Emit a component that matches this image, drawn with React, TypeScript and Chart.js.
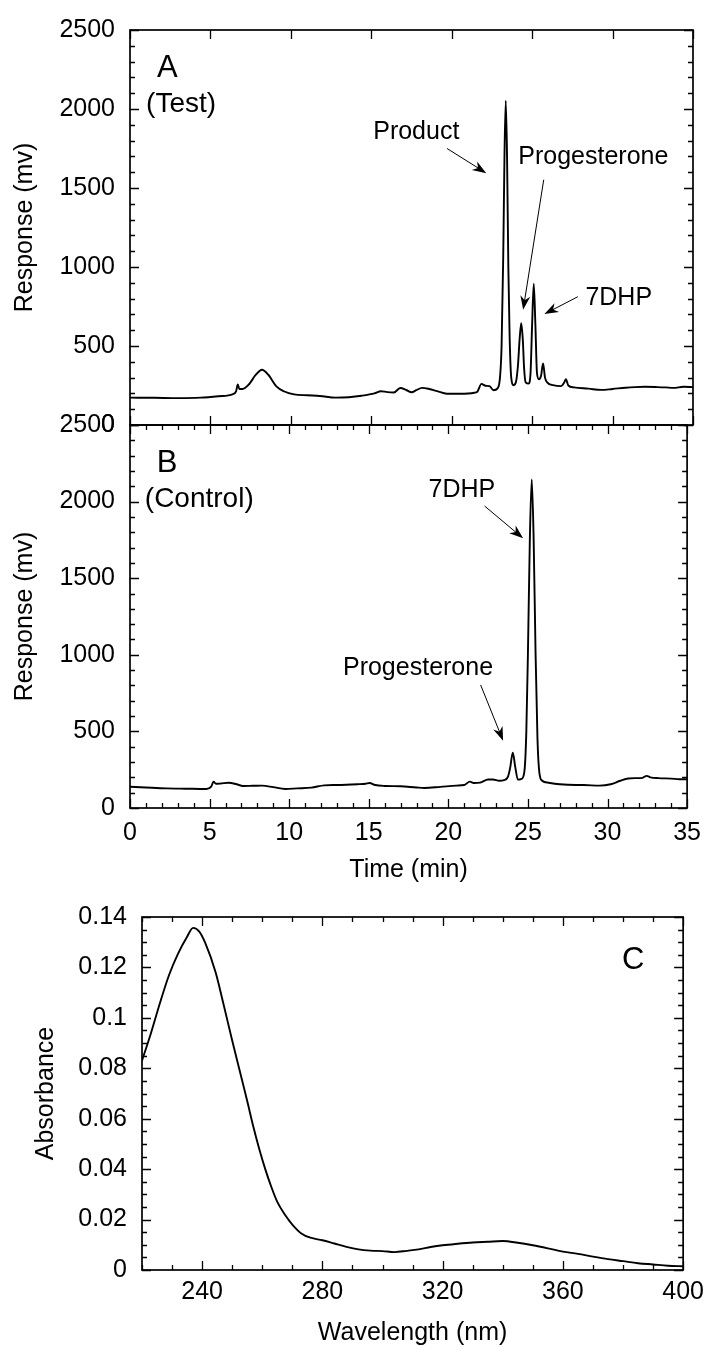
import React, { useEffect, useRef } from 'react';
import { Chart, registerables } from 'chart.js';

Chart.register(...registerables);

const FONT = '"Liberation Sans", Arial, Helvetica, sans-serif';

// ---------- Panel A (Test) : time (min) vs response (mv) ----------
const A_TIME = [
  0, 1.5, 3.0, 4.4, 5.5, 6.4, 6.6, 6.7, 6.8, 7.0, 7.4, 7.8, 8.2, 8.6, 9.1, 9.6, 10.2, 11.0, 11.8, 12.8,
  13.6, 14.4, 15.2, 15.6, 16.0, 16.4, 16.8, 17.2, 17.5, 17.8, 18.15, 18.6, 19.1, 19.7, 20.5, 21.4, 21.6,
  21.85, 22.1, 22.35, 22.6, 22.85, 23.0, 23.1, 23.2, 23.28, 23.36, 23.44, 23.52, 23.6, 23.7, 23.85, 24.0,
  24.12, 24.22, 24.32, 24.42, 24.5, 24.6, 24.78, 24.9, 25.0, 25.1, 25.2, 25.3, 25.42, 25.55, 25.68, 25.8,
  25.95, 26.3, 26.8, 27.0, 27.1, 27.25, 27.6, 28.5, 29.3, 30.0, 30.8, 31.4, 32.0, 32.8, 33.3, 33.8, 34.4, 35.0,
];
const A_RESP = [
  173, 172, 170, 173, 182, 196, 215, 256, 228, 228, 258, 315, 350, 318, 245, 212, 194, 188, 184, 173,
  176, 185, 200, 214, 208, 206, 234, 220, 207, 220, 235, 228, 214, 198, 198, 204, 212,
  260, 248, 246, 220, 232, 300, 500, 1050, 1700, 2052, 1700, 1000, 560, 300, 252, 275,
  380, 540, 645, 540, 360, 270, 262, 330, 640, 895, 640, 330, 290, 310, 390, 300,
  268, 252, 246, 270, 290, 250, 238, 230, 222, 228, 236, 240, 242, 240, 238, 235, 242, 240,
];

// ---------- Panel B (Control) ----------
const B_TIME = [
  0, 1.0, 2.3, 3.5, 4.8, 5.1, 5.25, 5.4, 5.7, 6.2, 6.7, 7.1, 7.7, 8.3, 9.0, 9.75, 10.5, 11.4, 12.2, 13.0,
  14.3, 14.8, 15.05, 15.4, 16.0, 17.0, 18.0, 18.5, 19.5, 20.5, 21.0, 21.35, 21.6, 22.0, 22.5, 22.8, 23.2,
  23.5, 23.75, 23.88, 24.05, 24.2, 24.37, 24.6, 24.78, 24.9, 25.0, 25.12, 25.24, 25.36, 25.48, 25.6, 25.72,
  25.9, 26.3, 27.0, 28.0, 28.5, 29.5, 30.2, 30.8, 31.3, 31.8, 32.2, 32.46, 32.7, 33.2, 34.0, 34.5, 35.0,
];
const B_RESP = [
  139, 134, 128, 126, 124, 140, 172, 158, 160, 165, 155, 144, 145, 146, 136, 124, 128, 133, 148, 150,
  155, 158, 163, 150, 144, 142, 134, 131, 138, 146, 150, 172, 163, 166, 186, 186, 178,
  182, 205, 260, 361, 270, 185, 190, 240, 500, 1010, 1750, 2145, 1750, 1010, 450, 230,
  178, 165, 155, 150, 150, 146, 155, 178, 193, 195, 197, 210, 200, 195, 192, 188, 187,
];

// ---------- Panel C : UV spectrum ----------
const C_WAVE = [
  220, 223, 226, 229, 232, 235, 237, 239, 241, 244.5, 247, 250, 252.5, 255, 257, 259, 261, 263,
  265, 267.5, 270, 273, 276, 280, 284, 288, 292, 296, 300, 304, 308, 312, 316, 320, 325, 330, 335, 340,
  345, 350, 355, 360, 365, 370, 375, 380, 385, 390, 395, 400,
];
const C_ABS = [
  0.083, 0.094, 0.106, 0.117, 0.1255, 0.1322, 0.1357, 0.1343, 0.1298, 0.118, 0.106, 0.091, 0.079,
  0.067, 0.057, 0.048, 0.04, 0.033, 0.027, 0.022, 0.018, 0.0145, 0.0128, 0.0118, 0.0105, 0.0092, 0.0082,
  0.0077, 0.0075, 0.0071, 0.0076, 0.0082, 0.0091, 0.0098, 0.0104, 0.0109, 0.0112, 0.0115, 0.0108, 0.0098,
  0.0086, 0.0073, 0.0064, 0.0053, 0.0043, 0.0035, 0.0027, 0.0022, 0.0017, 0.0015,
];

// ---------- tick labels ----------
const AB_Y_TICKS = [0, 500, 1000, 1500, 2000, 2500];
const B_X_TICKS = [0, 5, 10, 15, 20, 25, 30, 35];
const C_X_TICKS = [240, 280, 320, 360, 400];
const C_Y_TICKS = [0, 0.02, 0.04, 0.06, 0.08, 0.1, 0.12, 0.14];
const C_Y_LABELS = ['0', '0.02', '0.04', '0.06', '0.08', '0.1', '0.12', '0.14'];

const steps = (min: number, max: number, step: number) => {
  const n = Math.round((max - min) / step);
  return Array.from({ length: n + 1 }, (_, i) => +(min + i * step).toFixed(6));
};

type Txt = { s: string; x: number; y: number; size: number };
type Side = { major: boolean; minor: boolean };
type Spec = {
  key: string;
  xMajor: number[];
  xMinor: number[];
  yMajor: number[];
  yMinor: number[];
  top: Side;
  bottom: Side;
  left: Side;
  right: Side;
  texts: Txt[];
  arrows: number[][];
  yTitle?: { s: string; x: number };
  xTitle?: { s: string; dy: number };
};

function makeDecor(spec: Spec) {
  return {
    id: 'decor' + spec.key,
    afterDraw(chart: any) {
      const { ctx, chartArea: ca } = chart;
      const xs = chart.scales.x;
      const ys = chart.scales.y;
      ctx.save();
      ctx.strokeStyle = '#000';
      ctx.fillStyle = '#000';
      const MAJ = 9;
      const MIN = 5;
      ctx.lineWidth = 1.3;
      ctx.beginPath();
      const xTicks = (vals: number[], len: number, top: boolean, bottom: boolean) => {
        vals.forEach((v) => {
          const p = Math.round(xs.getPixelForValue(v)) + 0.5;
          if (top) { ctx.moveTo(p, ca.top); ctx.lineTo(p, ca.top + len); }
          if (bottom) { ctx.moveTo(p, ca.bottom); ctx.lineTo(p, ca.bottom - len); }
        });
      };
      const yTicks = (vals: number[], len: number, left: boolean, right: boolean) => {
        vals.forEach((v) => {
          const p = Math.round(ys.getPixelForValue(v)) + 0.5;
          if (left) { ctx.moveTo(ca.left, p); ctx.lineTo(ca.left + len, p); }
          if (right) { ctx.moveTo(ca.right, p); ctx.lineTo(ca.right - len, p); }
        });
      };
      xTicks(spec.xMajor, MAJ, spec.top.major, spec.bottom.major);
      xTicks(spec.xMinor, MIN, spec.top.minor, spec.bottom.minor);
      yTicks(spec.yMajor, MAJ, spec.left.major, spec.right.major);
      yTicks(spec.yMinor, MIN, spec.left.minor, spec.right.minor);
      ctx.stroke();

      ctx.lineWidth = 1.7;
      ctx.strokeRect(ca.left, ca.top, ca.right - ca.left, ca.bottom - ca.top);

      // annotation texts
      ctx.textAlign = 'left';
      ctx.textBaseline = 'alphabetic';
      spec.texts.forEach((t) => {
        ctx.font = `${t.size}px ${FONT}`;
        ctx.fillText(t.s, xs.getPixelForValue(t.x), ys.getPixelForValue(t.y));
      });

      // arrows
      spec.arrows.forEach((a) => {
        const x1 = xs.getPixelForValue(a[0]);
        const y1 = ys.getPixelForValue(a[1]);
        const x2 = xs.getPixelForValue(a[2]);
        const y2 = ys.getPixelForValue(a[3]);
        const dx = x2 - x1;
        const dy = y2 - y1;
        const L = Math.hypot(dx, dy);
        const ux = dx / L;
        const uy = dy / L;
        const nx = -uy;
        const ny = ux;
        const HL = 14;
        const HW = 5;
        ctx.lineWidth = 1;
        ctx.beginPath();
        ctx.moveTo(x1, y1);
        ctx.lineTo(x2 - ux * HL * 0.6, y2 - uy * HL * 0.6);
        ctx.stroke();
        ctx.beginPath();
        ctx.moveTo(x2, y2);
        ctx.lineTo(x2 - ux * HL + nx * HW, y2 - uy * HL + ny * HW);
        ctx.lineTo(x2 - ux * HL * 0.7, y2 - uy * HL * 0.7);
        ctx.lineTo(x2 - ux * HL - nx * HW, y2 - uy * HL - ny * HW);
        ctx.closePath();
        ctx.fill();
      });

      // axis titles
      ctx.font = `25px ${FONT}`;
      ctx.textAlign = 'center';
      ctx.textBaseline = 'middle';
      if (spec.yTitle) {
        ctx.save();
        ctx.translate(spec.yTitle.x, (ca.top + ca.bottom) / 2);
        ctx.rotate(-Math.PI / 2);
        ctx.fillText(spec.yTitle.s, 0, 0);
        ctx.restore();
      }
      if (spec.xTitle) {
        ctx.fillText(spec.xTitle.s, (ca.left + ca.right) / 2, ca.bottom + spec.xTitle.dy);
      }
      ctx.restore();
    },
  };
}

const W = 711;
const H = 1357;
const XAXIS_H = 50;

function makeChart(
  canvas: HTMLCanvasElement,
  xs: number[],
  ys: number[],
  area: { top: number; bottom: number; right: number },
  yAxisWidth: number,
  xScale: any,
  yScale: any,
  spec: Spec,
) {
  return new Chart(canvas, {
    type: 'line',
    data: {
      datasets: [
        {
          data: xs.map((x, i) => ({ x, y: ys[i] })),
          borderColor: '#000',
          borderWidth: 1.9,
          pointRadius: 0,
          fill: false,
          cubicInterpolationMode: 'monotone',
        },
      ],
    },
    options: {
      animation: false,
      responsive: false,
      devicePixelRatio: 1,
      events: [],
      layout: {
        padding: { left: 0, top: area.top, right: W - area.right, bottom: H - area.bottom - XAXIS_H },
      },
      plugins: { legend: { display: false }, tooltip: { enabled: false }, title: { display: false } },
      scales: {
        x: {
          type: 'linear',
          ...xScale,
          grid: { display: false, drawTicks: false },
          border: { display: false },
          afterFit: (s: any) => { s.height = XAXIS_H; },
        },
        y: {
          type: 'linear',
          ...yScale,
          grid: { display: false, drawTicks: false },
          border: { display: false },
          afterFit: (s: any) => { s.width = yAxisWidth; },
        },
      },
    },
    plugins: [makeDecor(spec)],
  } as any);
}

const tickFont = { family: FONT, size: 25 };

export default function App() {
  const refA = useRef<HTMLCanvasElement>(null);
  const refB = useRef<HTMLCanvasElement>(null);
  const refC = useRef<HTMLCanvasElement>(null);

  useEffect(() => {
    const abY = {
      min: 0,
      max: 2500,
      afterBuildTicks: (s: any) => { s.ticks = AB_Y_TICKS.map((v) => ({ value: v })); },
      ticks: {
        font: tickFont, color: '#000', padding: 15, autoSkip: false,
        callback: (v: any) => String(v),
      },
    };
    const chartA = makeChart(
      refA.current!, A_TIME, A_RESP,
      { top: 25, bottom: 425, right: 693 }, 130,
      { min: 0, max: 35, ticks: { display: false } },
      abY,
      {
        key: 'A',
        xMajor: steps(0, 35, 5), xMinor: steps(0, 35, 1),
        yMajor: steps(0, 2500, 500), yMinor: steps(0, 2500, 100),
        top: { major: true, minor: false }, bottom: { major: true, minor: false },
        left: { major: true, minor: true }, right: { major: true, minor: true },
        texts: [
          { s: 'A', x: 1.68, y: 2200, size: 31 },
          { s: '(Test)', x: 1.0, y: 1981, size: 28 },
          { s: 'Product', x: 15.12, y: 1812, size: 25 },
          { s: 'Progesterone', x: 24.14, y: 1650, size: 25 },
          { s: '7DHP', x: 28.31, y: 762, size: 25 },
        ],
        arrows: [
          [19.71, 1750, 22.15, 1594],
          [25.72, 1552, 24.44, 729],
          [27.84, 812, 25.76, 702],
        ],
        yTitle: { s: 'Response (mv)', x: 25 },
      },
    );
    const chartB = makeChart(
      refB.current!, B_TIME, B_RESP,
      { top: 425, bottom: 808, right: 693 }, 130,
      {
        min: 0, max: 35,
        afterBuildTicks: (s: any) => { s.ticks = B_X_TICKS.map((v) => ({ value: v })); },
        ticks: { font: tickFont, color: '#000', padding: 10, autoSkip: false, maxRotation: 0 },
      },
      abY,
      {
        key: 'B',
        xMajor: steps(0, 35, 5), xMinor: steps(0, 35, 1),
        yMajor: steps(0, 2500, 500), yMinor: steps(0, 2500, 100),
        top: { major: true, minor: true }, bottom: { major: true, minor: true },
        left: { major: true, minor: true }, right: { major: true, minor: true },
        texts: [
          { s: 'B', x: 1.68, y: 2193, size: 31 },
          { s: '(Control)', x: 0.93, y: 1965, size: 28 },
          { s: '7DHP', x: 18.76, y: 2030, size: 25 },
          { s: 'Progesterone', x: 13.38, y: 868, size: 25 },
        ],
        arrows: [
          [22.28, 1971, 24.7, 1760],
          [22.03, 803, 23.44, 439],
        ],
        yTitle: { s: 'Response (mv)', x: 25 },
        xTitle: { s: 'Time (min)', dy: 62 },
      },
    );
    const chartC = makeChart(
      refC.current!, C_WAVE, C_ABS,
      { top: 917, bottom: 1270, right: 688 }, 142,
      {
        min: 220, max: 400,
        afterBuildTicks: (s: any) => { s.ticks = C_X_TICKS.map((v) => ({ value: v })); },
        ticks: { font: tickFont, color: '#000', padding: 7, autoSkip: false, maxRotation: 0 },
      },
      {
        min: 0, max: 0.14,
        afterBuildTicks: (s: any) => { s.ticks = C_Y_TICKS.map((v) => ({ value: v })); },
        ticks: {
          font: tickFont, color: '#000', padding: 15, autoSkip: false,
          callback: (_v: any, i: number) => C_Y_LABELS[i],
        },
      },
      {
        key: 'C',
        xMajor: C_X_TICKS, xMinor: steps(220, 400, 10),
        yMajor: C_Y_TICKS, yMinor: steps(0, 0.14, 0.005),
        top: { major: true, minor: true }, bottom: { major: true, minor: true },
        left: { major: true, minor: true }, right: { major: true, minor: true },
        texts: [{ s: 'C', x: 379.7, y: 0.1193, size: 31 }],
        arrows: [],
        yTitle: { s: 'Absorbance', x: 46 },
        xTitle: { s: 'Wavelength (nm)', dy: 63 },
      },
    );
    return () => {
      chartA.destroy();
      chartB.destroy();
      chartC.destroy();
    };
  }, []);

  const cs: React.CSSProperties = { position: 'absolute', left: 0, top: 0, width: W, height: H };
  return (
    <div style={{ position: 'absolute', left: 0, top: 0, width: W, height: H, background: '#fff' }}>
      <canvas ref={refA} width={W} height={H} style={cs} />
      <canvas ref={refB} width={W} height={H} style={cs} />
      <canvas ref={refC} width={W} height={H} style={cs} />
    </div>
  );
}
